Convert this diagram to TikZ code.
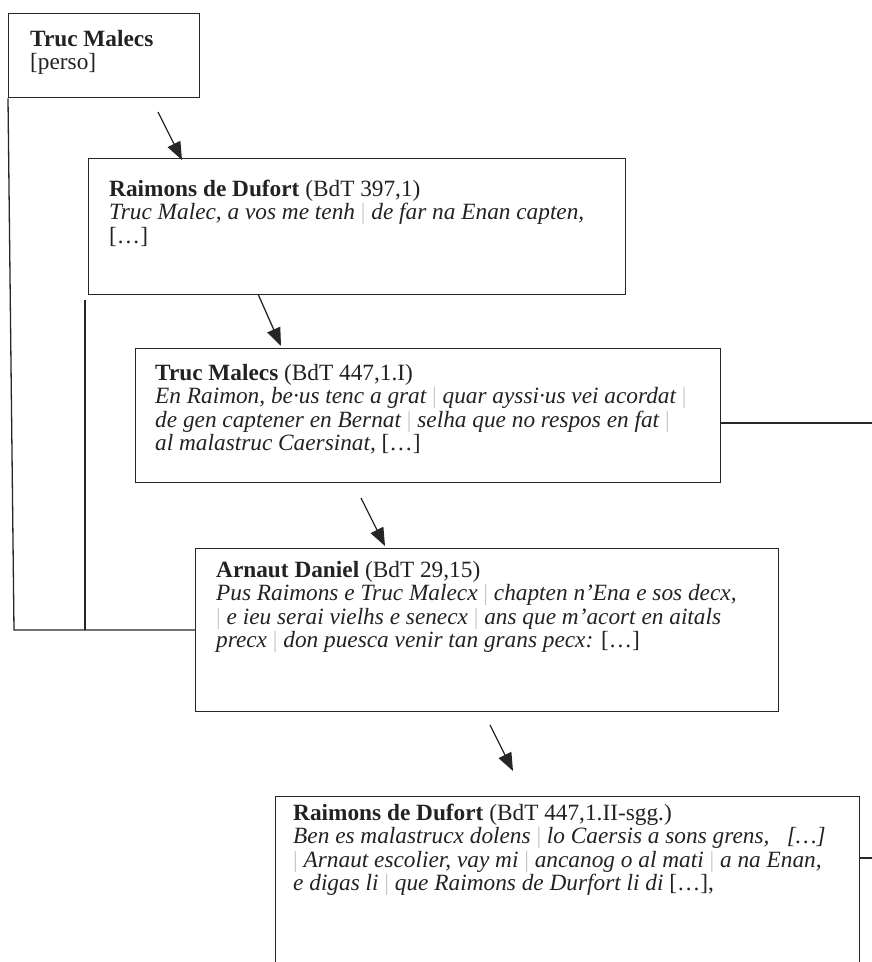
\documentclass[tikz,border=0pt]{standalone}
\usepackage{fontspec}
\setmainfont{Liberation Serif}
\usetikzlibrary{arrows.meta,calc}
\definecolor{sepgray}{RGB}{192,198,204}
\definecolor{ink}{RGB}{34,34,34}
\newcommand{\sepbar}{{\upshape\textcolor{sepgray}{|}}}
\begin{document}
\begin{tikzpicture}[x=1pt,y=-1pt,
  font=\fontsize{23.3}{23.5}\selectfont,
  boxnode/.style={draw=black!85,line width=1.3pt,rectangle,inner sep=0pt,anchor=north west},
  txt/.style={anchor=base west,align=left,inner sep=0pt,text=ink},
  conn/.style={draw=black!85,line width=1.3pt},
  arr/.style={conn,-{Triangle[length=18pt,width=14pt]}}]
\useasboundingbox (0,0) rectangle (872,962);
\clip (0,0) rectangle (872,962);
% boxes
\node[boxnode,minimum width=191pt,minimum height=84pt] (b1) at (8,13) {};
\node[boxnode,minimum width=537pt,minimum height=136pt] (b2) at (88,158) {};
\node[boxnode,minimum width=585pt,minimum height=134pt] (b3) at (135,348) {};
\node[boxnode,minimum width=583pt,minimum height=163pt] (b4) at (195,548) {};
\node[boxnode,minimum width=584pt,minimum height=200pt] (b5) at (275,796) {};
% texts (anchor = baseline of last line)
\node[txt] (t1) at (30,69.5) {\textbf{Truc Malecs}\\{[perso]}};
\node[txt] (t2) at (109,243) {\textbf{Raimons de Dufort} (BdT 397,1)\\
  \textit{Truc Malec, a vos me tenh \sepbar{} de far na Enan capten,}\\
  {[…]}};
\node[txt] (t3) at (155,450.5) {\textbf{Truc Malecs} (BdT 447,1.I)\\
  \textit{En Raimon, be·us tenc a grat \sepbar{} quar ayssi·us vei acordat \sepbar}\\
  \textit{de gen captener en Bernat \sepbar{} selha que no respos en fat \sepbar}\\
  \textit{al malastruc Caersinat,} […]};
\node[txt] (t4) at (216,647.5) {\textbf{Arnaut Daniel} (BdT 29,15)\\
  \textit{Pus Raimons e Truc Malecx \sepbar{} chapten n’Ena e sos decx,}\\
  \textit{\sepbar{} e ieu serai vielhs e senecx \sepbar{} ans que m’acort en aitals}\\
  \textit{precx \sepbar{} don puesca venir tan grans pecx:} […]};
\node[txt] (t5) at (293,890.5) {\textbf{Raimons de Dufort} (BdT 447,1.II-sgg.)\\
  \textit{Ben es malastrucx dolens \sepbar{} lo Caersis a sons grens,~~ […]}\\
  \textit{\sepbar{} Arnaut escolier, vay mi \sepbar{} ancanog o al mati \sepbar{} a na Enan,}\\
  \textit{e digas li \sepbar{} que Raimons de Durfort li di} […],};
% free ends
\coordinate (a1s) at (158,112); \coordinate (a1e) at (182,160);
\coordinate (a2s) at (258,294); \coordinate (a2e) at (281,346);
\coordinate (a3s) at (361,498); \coordinate (a3e) at (385,546);
\coordinate (a4s) at (490,725); \coordinate (a4e) at (513,771);
\coordinate (lA) at (14,630);
\coordinate (lBt) at (85,300); \coordinate (lBb) at (85,630);
\coordinate (r3) at (872,423);
\coordinate (r5) at (872,858);
% arrows
\draw[arr] (a1s) -- (a1e);
\draw[arr] (a2s) -- (a2e);
\draw[arr] (a3s) -- (a3e);
\draw[arr] (a4s) -- (a4e);
% connectors
\draw[conn] (b1.south west) -- (lA) -- (b4.west |- lA);
\draw[conn] (lBt) -- (lBb);
\draw[conn] (b3.east |- r3) -- (r3);
\draw[conn] (b5.east |- r5) -- (r5);
\end{tikzpicture}
\end{document}
